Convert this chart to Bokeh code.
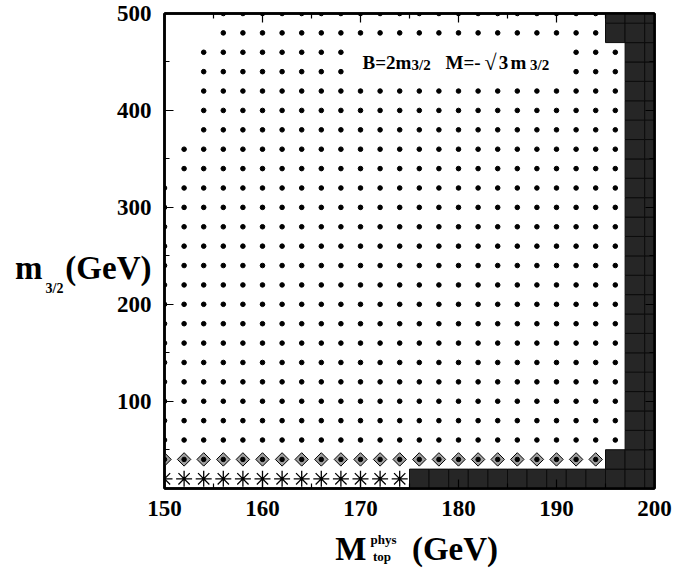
import numpy as np
from bokeh.plotting import figure
from bokeh.models import Range1d, FixedTicker, LinearAxis, Label
from bokeh.embed import file_html
from bokeh.resources import INLINE

# ---------------- data ----------------
x_ticks = [150, 160, 170, 180, 190, 200]
x_minor = [155, 165, 175, 185, 195]
y_ticks = [100, 200, 300, 400, 500]
y_minor = [50, 150, 250, 350, 450]

step_x = 2
step_y = 20
x_max = 200

# allowed points (small dots): first and last M_top value in each m_3/2 row
dot_rows = [60, 80, 100, 120, 140, 160, 180, 200, 220, 240, 260, 280, 300, 320,
            340, 360, 380, 400, 420, 440, 460, 480, 500]
dot_first = [150, 150, 150, 150, 150, 150, 150, 150, 150, 150, 150, 150, 150, 150,
             152, 152, 154, 154, 154, 154, 154, 156, 156]
dot_last = [196, 196, 196, 196, 196, 196, 196, 196, 196, 196, 196, 196, 196, 196,
            196, 196, 196, 196, 196, 196, 196, 194, 194]
# points hidden behind the annotation
gap_rows = [440, 460]
gap_x = [170, 190]

# stars (row 20) and diamonds (row 40)
star_row = 20
star_x = [150, 174]
diamond_row = 40
diamond_x = [150, 194]

# excluded (black) region: first M_top value per row
black_rows = [20, 40, 60, 80, 100, 120, 140, 160, 180, 200, 220, 240, 260, 280,
              300, 320, 340, 360, 380, 400, 420, 440, 460, 480, 500]
black_first = [176, 196, 198, 198, 198, 198, 198, 198, 198, 198, 198, 198, 198, 198,
               198, 198, 198, 198, 198, 198, 198, 198, 198, 196, 196]

# ---------------- build point lists ----------------
dx, dy = [], []
for r, a, b in zip(dot_rows, dot_first, dot_last):
    for xv in np.arange(a, b + 1, step_x):
        if r in gap_rows and gap_x[0] <= xv <= gap_x[1]:
            continue
        dx.append(xv)
        dy.append(r)

sx = list(np.arange(star_x[0], star_x[1] + 1, step_x))
sy = [star_row] * len(sx)
qx = list(np.arange(diamond_x[0], diamond_x[1] + 1, step_x))
qy = [diamond_row] * len(qx)

bx, by = [], []
for r, a in zip(black_rows, black_first):
    for xv in np.arange(a, x_max + 1, step_x):
        bx.append(xv)
        by.append(r)

# ---------------- figure ----------------
FONT = "Liberation Serif"
p = figure(width=676, height=575, x_range=Range1d(150, 200), y_range=Range1d(10, 500),
           output_backend="svg", toolbar_location=None,
           x_axis_location=None, y_axis_location=None,
           min_border_left=164, min_border_right=22, min_border_top=13, min_border_bottom=87)
p.grid.visible = False
p.outline_line_color = "black"
p.outline_line_width = 2.5
p.background_fill_color = "white"
p.border_fill_color = "white"

p.rect(bx, by, width=step_x, height=step_y, fill_color="#262626", line_color="#0c0c0c", line_width=1)
p.scatter(dx, dy, marker="circle", size=4.6, fill_color="black", line_color="black")
p.scatter(qx, qy, marker="square", angle=np.pi / 4, size=9.5, fill_color="#a0a0a0",
          line_color="black", line_width=1)
p.scatter(qx, qy, marker="circle", size=4.5, fill_color="black", line_color="black")
p.scatter(sx, sy, marker="asterisk", size=16, line_color="black", line_width=1.3)


def make_axis(ticks, minor, show):
    ax = LinearAxis(ticker=FixedTicker(ticks=ticks, minor_ticks=minor))
    ax.major_tick_in = 9
    ax.major_tick_out = 0
    ax.minor_tick_in = 5
    ax.minor_tick_out = 0
    ax.major_tick_line_width = 1.2
    ax.minor_tick_line_width = 1.2
    ax.axis_line_width = 2.5
    ax.major_label_text_font = FONT
    ax.major_label_text_font_style = "bold"
    ax.major_label_text_font_size = "23px"
    ax.major_label_text_color = "black"
    if not show:
        ax.major_label_overrides = {t: "" for t in ticks}
        ax.major_label_standoff = 0
    return ax


def text_axis(ticks, labels, size, standoff):
    ax = LinearAxis(ticker=FixedTicker(ticks=ticks, minor_ticks=[]))
    ax.axis_line_color = None
    ax.major_tick_line_color = None
    ax.minor_tick_line_color = None
    ax.major_tick_in = 0
    ax.major_tick_out = 0
    ax.minor_tick_in = 0
    ax.minor_tick_out = 0
    ax.major_label_overrides = dict(zip(ticks, labels))
    ax.major_label_standoff = standoff
    ax.major_label_text_font = FONT
    ax.major_label_text_font_style = "bold"
    ax.major_label_text_font_size = size
    ax.major_label_text_color = "black"
    return ax


bottom = make_axis(x_ticks, x_minor, True)
bottom.major_label_standoff = 12
left = make_axis(y_ticks, y_minor, True)
left.major_label_standoff = 13
top = make_axis(x_ticks, x_minor, False)
right = make_axis(y_ticks, y_minor, False)

# x-axis title pieces: M^{phys}_{top}(GeV)
xl_phys = text_axis([172.35], ["phys"], "13px", 13)
xl_top = text_axis([172.2], ["top"], "13px", -1)
xl_main = text_axis([169.0, 179.64], ["M", "(GeV)"], "33px", -36)

# y-axis title pieces: m_{3/2}(GeV)
yl_gev = text_axis([237], ["(GeV)"], "33px", -38)
yl_sub = text_axis([216], ["3/2"], "14px", -1)
yl_m = text_axis([237], ["m"], "33px", 0)

p.add_layout(bottom, "below")
p.add_layout(xl_phys, "below")
p.add_layout(xl_top, "below")
p.add_layout(xl_main, "below")
p.add_layout(left, "left")
p.add_layout(yl_gev, "left")
p.add_layout(yl_sub, "left")
p.add_layout(yl_m, "left")
p.add_layout(top, "above")
p.add_layout(right, "right")


def lab(x, y, text, size):
    p.add_layout(Label(x=x, y=y, x_units="data", y_units="data", text=text,
                       text_font=FONT, text_font_size=size, text_font_style="bold",
                       text_color="black", text_baseline="alphabetic", text_align="left"))


# annotation inside the plot: B=2m_{3/2}  M=-sqrt(3) m_{3/2}
lab(170.2, 449.5, "B=2m", "19px")
lab(175.2, 447.2, "3/2", "15px")
lab(178.67, 449.5, "M=-", "19px")
lab(182.65, 449.5, "\u221a", "22px")
lab(184.1, 449.5, "3", "19px")
lab(185.3, 449.5, "m", "19px")
lab(187.3, 447.2, "3/2", "15px")

open("out.html", "w").write(file_html(p, INLINE))
